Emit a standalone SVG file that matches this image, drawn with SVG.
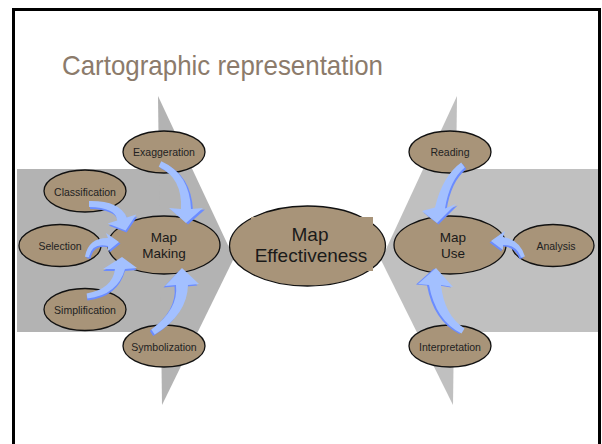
<svg xmlns="http://www.w3.org/2000/svg" xmlns:xlink="http://www.w3.org/1999/xlink" width="602" height="444" viewBox="0 0 602 444">
  <style>
    .node { fill: #a89479; stroke: #111; stroke-width: 1.3; }
    .lbl { font-family: "Liberation Sans", Arial, sans-serif; font-size: 10.5px; fill: #222; text-anchor: middle; }
    .big { font-family: "Liberation Sans", Arial, sans-serif; font-size: 13.5px; fill: #1a1a1a; text-anchor: middle; }
    .huge { font-family: "Liberation Sans", Arial, sans-serif; font-size: 19px; fill: #1a1a1a; text-anchor: middle; }
    .arr-lo { fill: #6b8cff; }
    .arr-hi { fill: #a3c0ff; }
  </style>
  <defs>
    <!-- curved block arrows, tail to head -->
    <path id="p-exag" d="M158.7,166.7 Q182.5,178 181,209 L169,208 L186,223 L203,208 L191,209 Q189.5,174 161.3,161.3 Z"/>
    <path id="p-class" d="M89,207 Q116.3,207.6 117.2,220.5 L107.7,223.5 L125.6,230.4 L136.3,214.5 L126.8,217.5 Q119.7,200.4 89,201 Z"/>
    <path id="p-sel" d="M89,257.3 Q91.7,242.4 108,246 L108,251 L119,242 L106,233 L108,238 Q88.3,237.6 85,256.7 Z"/>
    <path id="p-simp" d="M87.4,298.5 Q117.5,295.1 125,269 L137,268 L122,257 L103,269 L115,269 Q112.5,288.9 86.6,293.5 Z"/>
    <path id="p-symb" d="M154.7,334.5 Q187.3,314.6 188,285 L199,284 L182,268 L165,286 L176,285 Q178.7,309.4 151.3,329.5 Z"/>
    <path id="p-read" d="M461.2,162.6 Q442.5,176.1 435,207.5 L422,211 L437,223 L456,204 L445,208.5 Q449.5,179.9 464.8,167.4 Z"/>
    <path id="p-anal" d="M524.9,256.4 Q519.9,239.7 503,237 L505,231 L491,241 L503,250 L503,245 Q516.1,244.3 521.1,257.6 Z"/>
    <path id="p-interp" d="M464.5,328.4 Q444.3,315.4 441,285 L453,287 L436,268 L418,284 L429,285 Q435.7,320.6 461.5,333.6 Z"/>
  </defs>

  <!-- slide frame -->
  <rect x="13.5" y="9.5" width="586" height="440" fill="#fff" stroke="#000" stroke-width="3"/>

  <!-- title -->
  <text x="62" y="75" font-family="'Liberation Sans', Arial, sans-serif" font-size="28" fill="#8c7b6b" textLength="321" lengthAdjust="spacingAndGlyphs">Cartographic representation</text>

  <!-- background chevrons -->
  <g id="band-left" fill="#b3b3b3">
    <rect x="17" y="169" width="150" height="163"/>
    <polygon points="158,96 234,258 162,405"/>
  </g>
  <g id="band-right" fill="#c0c0c0">
    <rect x="445" y="169" width="153" height="163"/>
    <polygon points="457,96 381,260 453,405"/>
  </g>

  <!-- nodes -->
  <g id="exaggeration"><ellipse class="node" cx="164" cy="152" rx="41" ry="21"/><text class="lbl" x="164" y="156">Exaggeration</text></g>
  <g id="classification"><ellipse class="node" cx="85" cy="191" rx="41" ry="21"/><text class="lbl" x="85" y="195.5">Classification</text></g>
  <g id="selection"><ellipse class="node" cx="60" cy="245.5" rx="41" ry="21"/><text class="lbl" x="60" y="250">Selection</text></g>
  <g id="simplification"><ellipse class="node" cx="85" cy="309.5" rx="41" ry="21"/><text class="lbl" x="85" y="314">Simplification</text></g>
  <g id="symbolization"><ellipse class="node" cx="164" cy="346" rx="41" ry="21"/><text class="lbl" x="164" y="350.5">Symbolization</text></g>
  <g id="map-making"><ellipse class="node" cx="164" cy="245" rx="56" ry="29"/><text class="big" x="164" y="241.5">Map</text><text class="big" x="164" y="258">Making</text></g>
  <g id="map-effectiveness">
    <ellipse class="node" cx="307.5" cy="246" rx="78" ry="40"/>
    <rect x="251" y="217" width="122" height="54" fill="#a89479"/>
    <text class="huge" x="310" y="241">Map</text>
    <text class="huge" x="311" y="262">Effectiveness</text>
  </g>
  <g id="map-use"><ellipse class="node" cx="450" cy="245" rx="56" ry="29"/><text class="big" x="453" y="241.5">Map</text><text class="big" x="453" y="258">Use</text></g>
  <g id="reading"><ellipse class="node" cx="450" cy="152" rx="41" ry="21"/><text class="lbl" x="450" y="156">Reading</text></g>
  <g id="analysis"><ellipse class="node" cx="553" cy="245.5" rx="41" ry="21"/><text class="lbl" x="556" y="250">Analysis</text></g>
  <g id="interpretation"><ellipse class="node" cx="450" cy="346" rx="41" ry="21"/><text class="lbl" x="450" y="350.5">Interpretation</text></g>

  <!-- connectors: dark underside offset, light face on top -->
  <g id="connectors">
    <use xlink:href="#p-exag" class="arr-lo" transform="translate(2,1.5)"/><use xlink:href="#p-exag" class="arr-hi"/>
    <use xlink:href="#p-class" class="arr-lo" transform="translate(1,2)"/><use xlink:href="#p-class" class="arr-hi"/>
    <use xlink:href="#p-sel" class="arr-lo" transform="translate(1.5,1.5)"/><use xlink:href="#p-sel" class="arr-hi"/>
    <use xlink:href="#p-simp" class="arr-lo" transform="translate(0,2)"/><use xlink:href="#p-simp" class="arr-hi"/>
    <use xlink:href="#p-symb" class="arr-lo" transform="translate(-1.5,1.5)"/><use xlink:href="#p-symb" class="arr-hi"/>
    <use xlink:href="#p-read" class="arr-lo" transform="translate(1.5,1.5)"/><use xlink:href="#p-read" class="arr-hi"/>
    <use xlink:href="#p-anal" class="arr-lo" transform="translate(-1.5,1.5)"/><use xlink:href="#p-anal" class="arr-hi"/>
    <use xlink:href="#p-interp" class="arr-lo" transform="translate(-2,0.5)"/><use xlink:href="#p-interp" class="arr-hi"/>
  </g>
</svg>
